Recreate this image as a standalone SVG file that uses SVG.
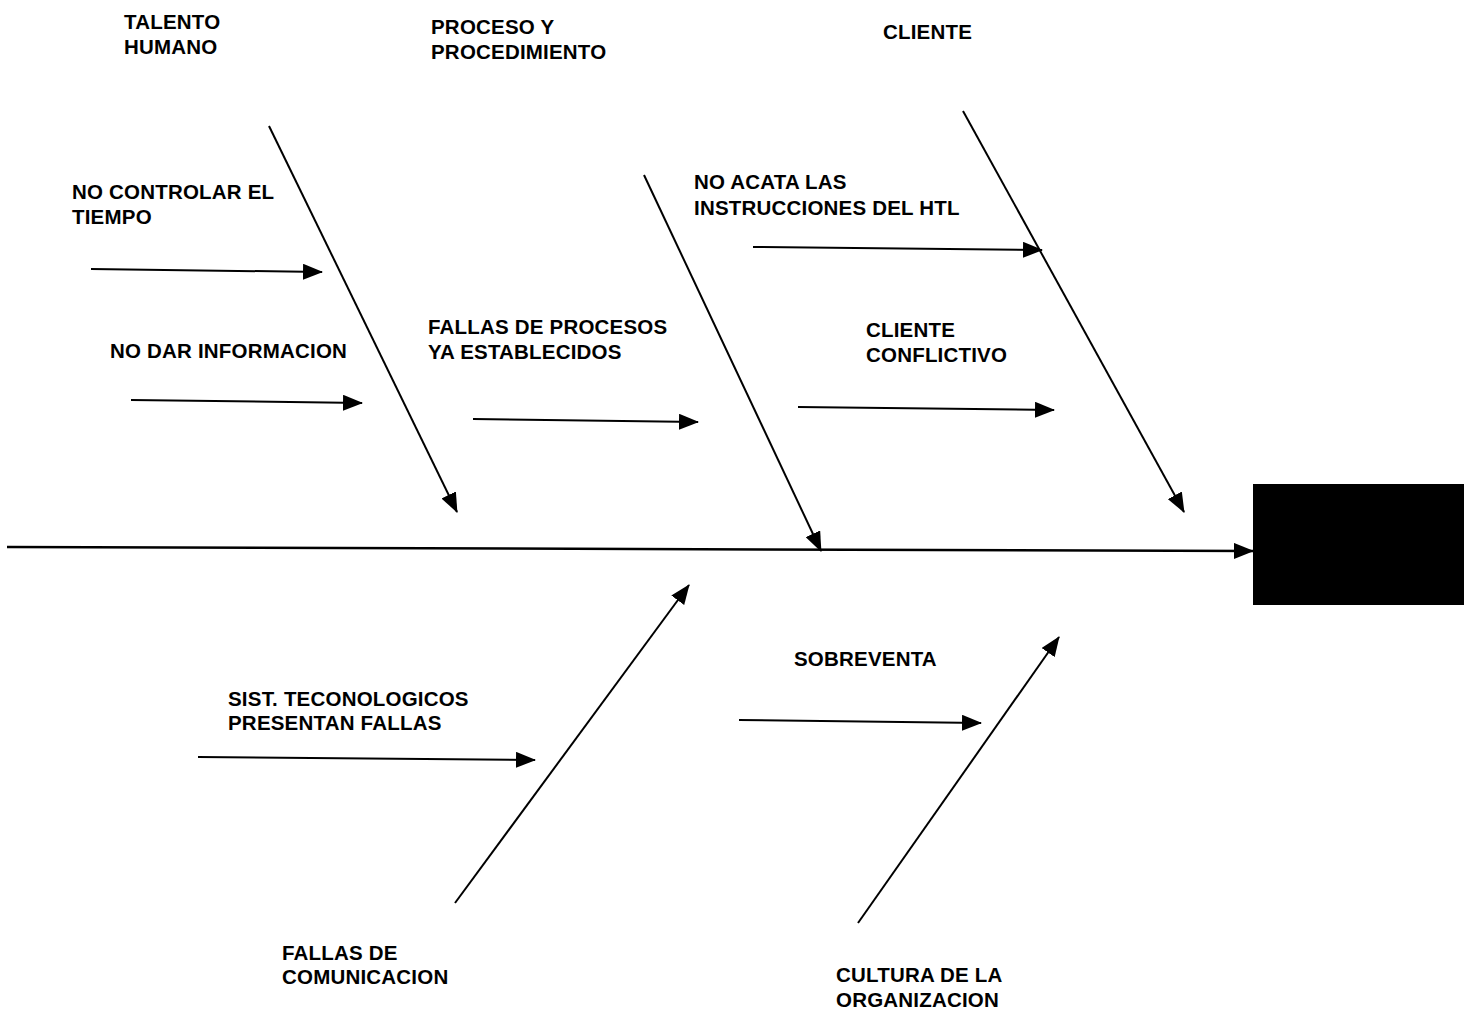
<svg xmlns="http://www.w3.org/2000/svg" width="1467" height="1022" viewBox="0 0 1467 1022">
  <style>
    .lbl { font-family: "Liberation Sans", Arial, sans-serif; font-weight: bold; font-size: 20.5px; letter-spacing: 0.2px; fill: #000; }
    .ln { stroke: #000; stroke-width: 2; fill: none; marker-end: url(#ah); }
    .spine { stroke: #000; stroke-width: 2.5; fill: none; marker-end: url(#ah); }
  </style>
  <defs>
    <marker id="ah" markerUnits="userSpaceOnUse" markerWidth="20" markerHeight="16" viewBox="0 0 20 16" refX="19" refY="8" orient="auto">
      <path d="M0,0 L20,8 L0,16 Z" fill="#000"/>
    </marker>
  </defs>

  <rect width="1467" height="1022" fill="#fff"/>

  <g id="connectors">
    <!-- main spine -->
    <path class="spine" d="M7,547 L1253,551"/>
    <!-- category bones -->
    <path class="ln" d="M269,126 L457,512"/>
    <path class="ln" d="M644,175 L821,551"/>
    <path class="ln" d="M963,111 L1184,512"/>
    <path class="ln" d="M455,903 L689,585"/>
    <path class="ln" d="M858,923 L1059,637"/>
    <!-- cause arrows -->
    <path class="ln" d="M91,269 L322,272"/>
    <path class="ln" d="M131,400 L362,403"/>
    <path class="ln" d="M473,419 L698,422"/>
    <path class="ln" d="M753,247 L1042,250"/>
    <path class="ln" d="M798,407 L1054,410"/>
    <path class="ln" d="M198,757 L535,760"/>
    <path class="ln" d="M739,720 L981,723"/>
  </g>

  <g id="effect">
    <rect x="1253" y="484" width="211" height="121" fill="#000"/>
  </g>

  <g id="talento-humano">
    <text class="lbl" x="124" y="29">TALENTO</text>
    <text class="lbl" x="124" y="54">HUMANO</text>
  </g>
  <g id="proceso">
    <text class="lbl" x="431" y="34">PROCESO Y</text>
    <text class="lbl" x="431" y="59">PROCEDIMIENTO</text>
  </g>
  <g id="cliente">
    <text class="lbl" x="883" y="39">CLIENTE</text>
  </g>
  <g id="no-controlar">
    <text class="lbl" x="72" y="199">NO CONTROLAR EL</text>
    <text class="lbl" x="72" y="224">TIEMPO</text>
  </g>
  <g id="no-dar-info">
    <text class="lbl" x="110" y="358">NO DAR INFORMACION</text>
  </g>
  <g id="fallas-procesos">
    <text class="lbl" x="428" y="334">FALLAS DE PROCESOS</text>
    <text class="lbl" x="428" y="359">YA ESTABLECIDOS</text>
  </g>
  <g id="no-acata">
    <text class="lbl" x="694" y="189">NO ACATA LAS</text>
    <text class="lbl" x="694" y="215">INSTRUCCIONES DEL HTL</text>
  </g>
  <g id="cliente-conflictivo">
    <text class="lbl" x="866" y="337">CLIENTE</text>
    <text class="lbl" x="866" y="362">CONFLICTIVO</text>
  </g>
  <g id="sist-tecnologicos">
    <text class="lbl" x="228" y="706">SIST. TECONOLOGICOS</text>
    <text class="lbl" x="228" y="730">PRESENTAN FALLAS</text>
  </g>
  <g id="sobreventa">
    <text class="lbl" x="794" y="666">SOBREVENTA</text>
  </g>
  <g id="fallas-comunicacion">
    <text class="lbl" x="282" y="960">FALLAS DE</text>
    <text class="lbl" x="282" y="984">COMUNICACION</text>
  </g>
  <g id="cultura">
    <text class="lbl" x="836" y="982">CULTURA DE LA</text>
    <text class="lbl" x="836" y="1007">ORGANIZACION</text>
  </g>
</svg>
